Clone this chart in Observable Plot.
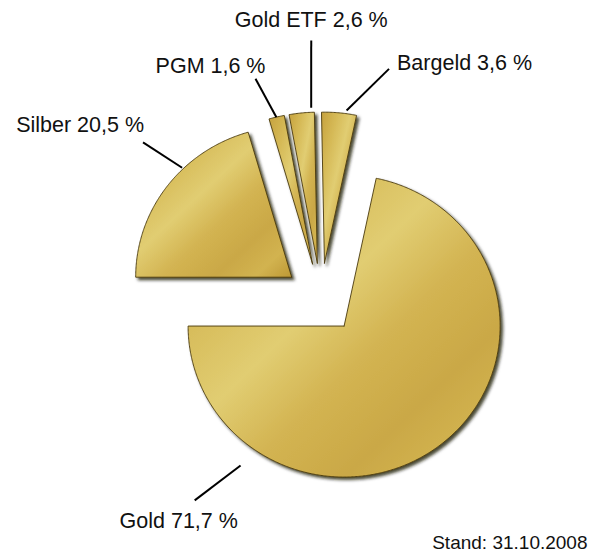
<!DOCTYPE html>
<html><head><meta charset="utf-8">
<script src="https://cdn.jsdelivr.net/npm/d3@7"></script>
<script src="https://cdn.jsdelivr.net/npm/@observablehq/plot@0.6"></script>
<style>
html,body{margin:0;padding:0;background:#fff;overflow:hidden;}
#chart svg{display:block;}
</style></head><body><div id="chart"></div>
<script>
// ---- data ----
const categories = ["Gold", "Silber", "PGM", "Gold ETF", "Bargeld"];
const shares = [71.7, 20.5, 1.6, 2.6, 3.6];
const labelTexts = ["Gold 71,7 %", "Silber 20,5 %", "PGM 1,6 %", "Gold ETF 2,6 %", "Bargeld 3,6 %"];
const footnote = "Stand: 31.10.2008";

// ---- layout ----
const W = 592, H = 553;
const cx = 320.5, cy = 298, rx = 156, ry = 151; // pie centre and radius (px)
const explode = 0.235;                           // in pie radii
// leader lines: [angle deg clockwise from 12 o'clock, radius in pie radii] from pie centre
const leaderStart = [[205, 1.22], [314.2, 1.242], [346.6, 1.234], [357.15, 1.265], [7.5, 1.256]];
const leaderEnd   = [[211.2, 1.563], [312.2, 1.54], [343.9, 1.514], [357.9, 1.71], [16, 1.582]];
const labelAnchor = ["middle", "end", "end", "middle", "start"];
const labelOffset = [[-16, 28], [1, -10], [10, -5.6], [0, -13], [8, 1]];

const polar = ([deg, r]) => {
  const t = deg * Math.PI / 180;
  return [r * Math.sin(t), r * Math.cos(t)];
};

// ---- pie geometry ----
const goldFrac = shares[0] / d3.sum(shares);
const a0 = 1.5 * Math.PI - goldFrac * 2 * Math.PI; // Gold ends at 9 o'clock
const arcs = d3.pie().sort(null).value(d => d).startAngle(a0).endAngle(a0 + 2 * Math.PI)(shares);
const pts = [];
arcs.forEach((a, i) => {
  const cat = categories[i];
  const mid = (a.startAngle + a.endAngle) / 2;
  const ox = explode * Math.sin(mid), oy = explode * Math.cos(mid);
  pts.push({cat, x: ox, y: oy});
  const n = Math.max(4, Math.ceil((a.endAngle - a.startAngle) / (Math.PI / 360)));
  for (let k = 0; k <= n; k++) {
    const t = a.startAngle + (a.endAngle - a.startAngle) * k / n;
    pts.push({cat, x: ox + Math.sin(t), y: oy + Math.cos(t)});
  }
  pts.push({cat, x: ox, y: oy});
});

const leaders = categories.map((c, i) => {
  const [x1, y1] = polar(leaderStart[i]);
  const [x2, y2] = polar(leaderEnd[i]);
  return {cat: c, x1, y1, x2, y2, label: labelTexts[i]};
});

const font = "Liberation Sans, Arial, Helvetica, sans-serif";

const chart = Plot.plot({
  width: W, height: H,
  margin: 0,
  x: {domain: [(0 - cx) / rx, (W - cx) / rx], axis: null},
  y: {domain: [(cy - H) / ry, cy / ry], axis: null},
  style: {fontFamily: font, background: "#fff"},
  marks: [
    Plot.line(pts, {x: "x", y: "y", z: "cat", curve: "linear",
      fill: "url(#goldGrad)", stroke: "#4a3a0e", strokeWidth: 0.9, strokeLinejoin: "round"}),
    Plot.link(leaders, {x1: "x1", y1: "y1", x2: "x2", y2: "y2", stroke: "#000", strokeWidth: 2}),
    ...leaders.map((d, i) => Plot.text([d], {
      x: "x2", y: "y2", text: "label",
      textAnchor: labelAnchor[i], lineAnchor: "bottom",
      dx: labelOffset[i][0], dy: labelOffset[i][1],
      fontSize: 21.5, fill: "#111", fontFamily: font
    })),
    Plot.text([footnote], {frameAnchor: "bottom-right", textAnchor: "end", lineAnchor: "bottom",
      dx: -5, dy: -5, fontSize: 19, fill: "#111", fontFamily: font})
  ]
});

const sel = d3.select(chart);
const defs = sel.insert("defs", ":first-child");
const grad = defs.append("linearGradient").attr("id", "goldGrad")
  .attr("x1", 0).attr("y1", 0).attr("x2", 1).attr("y2", 1);
[[0, "#c6a23e"], [0.22, "#d5b956"], [0.42, "#e1cd72"], [0.58, "#d3b452"], [0.75, "#caa846"], [0.88, "#d2b350"], [1, "#bd9834"]]
  .forEach(([o, c]) => grad.append("stop").attr("offset", o).attr("stop-color", c));
const filt = defs.append("filter").attr("id", "shadow")
  .attr("x", "-10%").attr("y", "-10%").attr("width", "130%").attr("height", "130%");
filt.append("feDropShadow").attr("dx", 2.5).attr("dy", 2.5).attr("stdDeviation", 1.8)
  .attr("flood-color", "#1a1404").attr("flood-opacity", 0.8);
sel.selectAll('g[aria-label="line"]').attr("filter", "url(#shadow)");

document.getElementById("chart").appendChild(chart);
</script>
</body></html>
